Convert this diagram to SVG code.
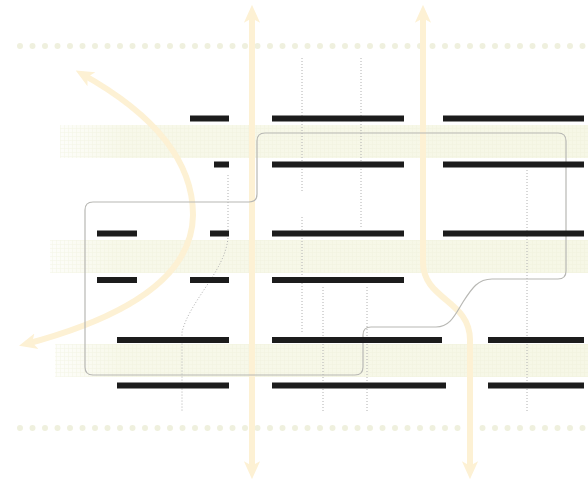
<svg xmlns="http://www.w3.org/2000/svg" width="588" height="487" viewBox="0 0 588 487">
<style>
.dots{fill:none;stroke:#eff0de;stroke-width:6;stroke-linecap:round;stroke-dasharray:0 12.5}
.band{fill:url(#bandFill)}
.grid{fill:url(#gridPat)}
.arrow{fill:none;stroke:#fdf1d4;stroke-width:6;stroke-linecap:butt}
.outline{fill:none;stroke:#b8b8b4;stroke-width:1.2}
.dotted{fill:none;stroke:#b0b0b0;stroke-width:1;stroke-dasharray:1 2}
.bar{fill:#1c1c1c}
</style>
<defs>
<linearGradient id="bandFill" x1="0" y1="0" x2="1" y2="0">
<stop offset="0" stop-color="#f6f7e6" stop-opacity="0.2"/>
<stop offset="0.12" stop-color="#f6f7e6" stop-opacity="0.85"/>
<stop offset="1" stop-color="#f6f7e6" stop-opacity="1"/>
</linearGradient>
<pattern id="gridPat" width="4" height="4" patternUnits="userSpaceOnUse">
<path d="M0,0.5H4M0.5,0V4" stroke="#edefd6" stroke-width="0.6" fill="none"/>
</pattern>
<marker id="ah" viewBox="0 0 20 20" refX="12" refY="10" markerWidth="18" markerHeight="18" markerUnits="userSpaceOnUse" orient="auto-start-reverse">
<path d="M0,1 L20,10 L0,19 L5,10 Z" fill="#fdf1d4"/>
</marker>
</defs>

<g id="bands">
<rect class="band" x="60" y="125" width="528" height="33"/>
<rect class="grid" x="60" y="125" width="528" height="33" opacity="0.5"/>
<rect class="band" x="50" y="240" width="538" height="33"/>
<rect class="grid" x="50" y="240" width="538" height="33" opacity="0.5"/>
<rect class="band" x="55" y="344" width="533" height="33"/>
<rect class="grid" x="55" y="344" width="533" height="33" opacity="0.5"/>
</g>

<g id="dot-rows">
<line class="dots" x1="20" y1="46" x2="586" y2="46"/>
<line class="dots" x1="20" y1="428" x2="586" y2="428"/>
</g>

<g id="connectors">
<path class="arrow" d="M252,472 V12" marker-start="url(#ah)" marker-end="url(#ah)"/>
<path class="arrow" d="M423,12 V262 C423,300 470,300 470,340 V472" marker-start="url(#ah)" marker-end="url(#ah)"/>
<path class="arrow" d="M82,74 Q193,136 193,215 Q192,300 26,344" marker-start="url(#ah)" marker-end="url(#ah)"/>
</g>

<g id="outline">
<path class="outline" d="M93,202 H249 Q257,202 257,194 V141 Q257,133 265,133 H558 Q566,133 566,141 V271 Q566,279 558,279 H492 C478,279 472,288 463,302 C455,315 450,327 436,327 H371 Q363,327 363,335 V367 Q363,375 355,375 H93 Q85,375 85,367 V210 Q85,202 93,202 Z"/>
</g>

<g id="guides">
<path class="dotted" d="M302,58 V192"/>
<path class="dotted" d="M302,217 V332"/>
<path class="dotted" d="M361,58 V227"/>
<path class="dotted" d="M323,287 V412"/>
<path class="dotted" d="M367,287 V412"/>
<path class="dotted" d="M527,170 V412"/>
<path class="dotted" d="M228,175 V237 C226,270 190,300 182,332 V412"/>
</g>

<g id="bars">
<rect class="bar" x="190" y="115.5" width="39" height="6"/>
<rect class="bar" x="272" y="115.5" width="132" height="6"/>
<rect class="bar" x="443" y="115.5" width="141" height="6"/>
<rect class="bar" x="214" y="161.5" width="15" height="6"/>
<rect class="bar" x="272" y="161.5" width="132" height="6"/>
<rect class="bar" x="443" y="161.5" width="141" height="6"/>
<rect class="bar" x="97" y="230.5" width="40" height="6"/>
<rect class="bar" x="210" y="230.5" width="19" height="6"/>
<rect class="bar" x="272" y="230.5" width="132" height="6"/>
<rect class="bar" x="443" y="230.5" width="141" height="6"/>
<rect class="bar" x="97" y="277" width="40" height="6"/>
<rect class="bar" x="190" y="277" width="39" height="6"/>
<rect class="bar" x="272" y="277" width="132" height="6"/>
<rect class="bar" x="117" y="337" width="112" height="6"/>
<rect class="bar" x="272" y="337" width="170" height="6"/>
<rect class="bar" x="488" y="337" width="96" height="6"/>
<rect class="bar" x="117" y="382.5" width="112" height="6"/>
<rect class="bar" x="272" y="382.5" width="174" height="6"/>
<rect class="bar" x="488" y="382.5" width="96" height="6"/>
</g>
</svg>
